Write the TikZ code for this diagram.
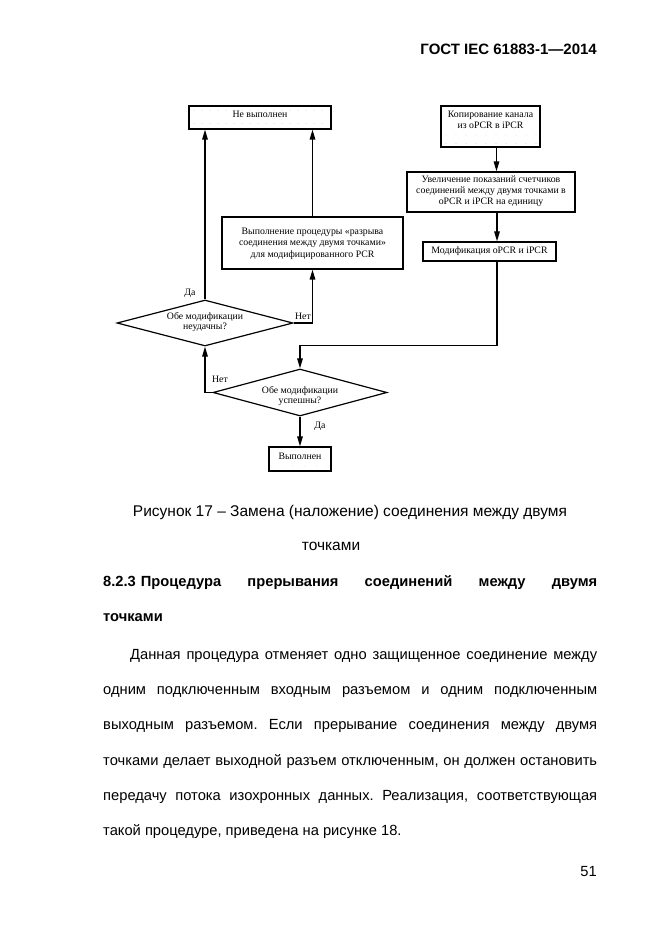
\documentclass[tikz,border=0pt]{standalone}
\usepackage{fontspec}
\setmainfont{Liberation Sans}
\newfontfamily\diagfont{Liberation Serif}
\usetikzlibrary{arrows.meta,shapes.geometric}
\frenchspacing
\begin{document}
\begin{tikzpicture}[x=1pt,y=-1pt,
  box/.style={draw, line width=1.2pt, inner sep=0pt},
  dtext/.style={font=\diagfont\fontsize{9.8}{11}\selectfont, align=center, inner sep=0pt},
  lab/.style={font=\diagfont\fontsize{9.8}{11}\selectfont, inner sep=0pt},
  arr/.style={line width=1.4pt, -{Triangle[length=10pt,width=5.5pt]}},
  dia/.style={draw, diamond, line width=1.2pt, inner sep=0pt},
  gdot/.style={fill=gray!55},
  body/.style={font=\fontsize{14.7}{18}\selectfont, inner sep=0pt, anchor=base west},
  bodyb/.style={font=\bfseries\fontsize{14.7}{18}\selectfont, inner sep=0pt, anchor=base west},
]
\useasboundingbox (0,0) rectangle (661,936);
\fill[white] (0,0) rectangle (661,936);

% header
\node[font=\bfseries\fontsize{15}{18}\selectfont, inner sep=0pt, anchor=base east] (hdr) at (597,54.5) {ГОСТ IEC 61883-1—2014};

% ---------- diagram ----------
\node[box, minimum width=142, minimum height=23] (nv) at (260,117.5) {};
\node[dtext] (nvt) at (260,114) {Не выполнен};
\foreach \x in {194,202,...,328} { \fill[gdot] (\x,110.5) circle (0.45); \fill[gdot] (\x,123.5) circle (0.45); }

\node[box, minimum width=99, minimum height=41] (kop) at (490.5,126.5) {};
\node[dtext] (kopt) at (490.5,120) {Копирование канала\\из oPCR в iPCR};
\foreach \x in {446,456,...,536} { \fill[gdot] (\x,135) circle (0.45); \fill[gdot] (\x,143.5) circle (0.45); }

\node[box, minimum width=168, minimum height=40] (uv) at (491,192) {};
\node[dtext] (uvt) at (491,191) {Увеличение показаний счетчиков\\соединений между двумя точками в\\oPCR и iPCR на единицу};

\node[box, minimum width=133, minimum height=19] (mod) at (489.5,251.5) {};
\node[dtext] (modt) at (489.5,251) {Модификация oPCR и iPCR};

\node[box, minimum width=181, minimum height=52] (vp) at (312.5,243) {};
\node[dtext, font=\diagfont\fontsize{9.8}{11.5}\selectfont] (vpt) at (312.5,243.5) {Выполнение процедуры «разрыва\\соединения между двумя точками»\\для модифицированного PCR};

\node[dia, minimum width=176, minimum height=46] (d1) at (205,323) {};
\node[dtext, font=\diagfont\fontsize{9.8}{10}\selectfont] (d1t) at (205,322) {Обе модификации\\неудачны?};

\node[dia, minimum width=174, minimum height=47] (d2) at (300,392.5) {};
\node[dtext, font=\diagfont\fontsize{9.8}{10.5}\selectfont] (d2t) at (300,396) {Обе модификации\\успешны?};

\node[box, minimum width=62, minimum height=24] (vyp) at (300,459) {};
\node[dtext] (vypt) at (300,456) {Выполнен};
\foreach \x in {293,305,317,328} { \fill[gdot] (\x,466) circle (0.45); }
\foreach \x in {272,284} { \fill[gdot] (\x,452) circle (0.45); }

% connectors
\draw[arr] ([xshift=6pt]kop.south) -- ([xshift=6pt]kop.south |- uv.north);
\draw[arr] ([xshift=6pt]uv.south) -- ([xshift=6pt]uv.south |- mod.north);
\draw[arr] ([xshift=7.5pt]mod.south) -- ++(0,84) -| (d2.north);
\draw[arr] (d1.north) -- (d1.north |- nv.south);
\draw[arr] (vp.north) -- (vp.north |- nv.south);
\draw[arr] (d1.east) -| (vp.south);
\draw[arr] (d2.west) -| (d1.south);
\draw[arr] (d2.south) -- (vyp.north);

\node[lab] (da1) at (190,293) {Да};
\node[lab] (net1) at (303,316) {Нет};
\node[lab] (net2) at (220,379) {Нет};
\node[lab] (da2) at (320,426) {Да};

% ---------- text ----------
\node[font=\fontsize{15.5}{18}\selectfont, inner sep=0pt, anchor=base] (cap1) at (350,516) {Рисунок 17 – Замена (наложение) соединения между двумя};
\node[font=\fontsize{15.5}{18}\selectfont, inner sep=0pt, anchor=base] (cap2) at (331,550.5) {точками};

\node[bodyb] (h1) at (103,586) {\makebox[494pt][s]{8.2.3\hspace{5pt}Процедура прерывания соединений между двумя}};
\node[bodyb] (h2) at (103,621.5) {точками};

\node[body] (p1) at (130,659) {\makebox[467pt][s]{Данная процедура отменяет одно защищенное соединение между}};
\node[body] (p2) at (103,694) {\makebox[494pt][s]{одним подключенным входным разъемом и одним подключенным}};
\node[body] (p3) at (103,729.5) {\makebox[494pt][s]{выходным разъемом. Если прерывание соединения между двумя}};
\node[body] (p4) at (103,765) {\makebox[494pt][s]{точками делает выходной разъем отключенным, он должен остановить}};
\node[body] (p5) at (103,800) {\makebox[494pt][s]{передачу потока изохронных данных. Реализация, соответствующая}};
\node[body] (p6) at (103,835) {такой процедуре, приведена на рисунке 18.};

\node[font=\fontsize{14.7}{18}\selectfont, inner sep=0pt, anchor=base east] (pg) at (597,876) {51};
\end{tikzpicture}
\end{document}
